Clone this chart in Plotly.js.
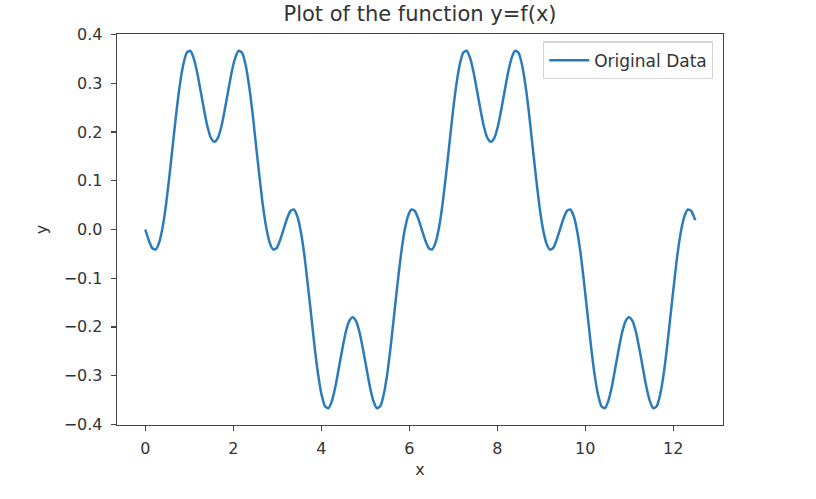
<!DOCTYPE html>
<html>
<head>
<meta charset="utf-8">
<script src="https://cdn.plot.ly/plotly-3.0.1.min.js"></script>
<style>html,body{margin:0;padding:0;background:#fff;}#chart{width:816px;height:499px;}</style>
</head>
<body>
<div id="chart"></div>
<script>
const chartTitle = "Plot of the function y=f(x)";
const seriesName = "Original Data";
const xTickVals = [0, 2, 4, 6, 8, 10, 12];
const yTickVals = [-0.4, -0.3, -0.2, -0.1, 0.0, 0.1, 0.2, 0.3, 0.4];

const xValues = [
0,0.079,0.157,0.236,0.314,0.393,0.471,0.550,0.628,0.707,0.785,0.864,0.942,1.021,1.100,1.178,1.257,1.335,1.414,1.492,
1.571,1.649,1.728,1.806,1.885,1.963,2.042,2.121,2.199,2.278,2.356,2.435,2.513,2.592,2.670,2.749,2.827,2.906,2.985,3.063,
3.142,3.220,3.299,3.377,3.456,3.534,3.613,3.691,3.770,3.848,3.927,4.006,4.084,4.163,4.241,4.320,4.398,4.477,4.555,4.634,
4.712,4.791,4.869,4.948,5.027,5.105,5.184,5.262,5.341,5.419,5.498,5.576,5.655,5.733,5.812,5.890,5.969,6.048,6.126,6.205,
6.283,6.362,6.440,6.519,6.597,6.676,6.754,6.833,6.912,6.990,7.069,7.147,7.226,7.304,7.383,7.461,7.540,7.618,7.697,7.775,
7.854,7.933,8.011,8.090,8.168,8.247,8.325,8.404,8.482,8.561,8.639,8.718,8.796,8.875,8.954,9.032,9.111,9.189,9.268,9.346,
9.425,9.503,9.582,9.660,9.739,9.817,9.896,9.975,10.053,10.132,10.210,10.289,10.367,10.446,10.524,10.603,10.681,10.760,10.838,10.917,
10.996,11.074,11.153,11.231,11.310,11.388,11.467,11.545,11.624,11.702,11.781,11.859,11.938,12.017,12.095,12.174,12.252,12.331,12.409,12.488,
12.5];

const yValues = [
0,-0.022,-0.038,-0.041,-0.027,0.004,0.051,0.111,0.176,0.241,0.297,0.339,0.363,0.367,0.352,0.323,0.285,0.246,0.211,0.188,
0.180,0.188,0.211,0.246,0.285,0.323,0.352,0.367,0.363,0.339,0.297,0.241,0.176,0.111,0.051,0.004,-0.027,-0.041,-0.038,-0.022,
0,0.022,0.038,0.041,0.027,-0.004,-0.051,-0.111,-0.176,-0.241,-0.297,-0.339,-0.363,-0.367,-0.352,-0.323,-0.285,-0.246,-0.211,-0.188,
-0.180,-0.188,-0.211,-0.246,-0.285,-0.323,-0.352,-0.367,-0.363,-0.339,-0.297,-0.241,-0.176,-0.111,-0.051,-0.004,0.027,0.041,0.038,0.022,
0,-0.022,-0.038,-0.041,-0.027,0.004,0.051,0.111,0.176,0.241,0.297,0.339,0.363,0.367,0.352,0.323,0.285,0.246,0.211,0.188,
0.180,0.188,0.211,0.246,0.285,0.323,0.352,0.367,0.363,0.339,0.297,0.241,0.176,0.111,0.051,0.004,-0.027,-0.041,-0.038,-0.022,
0,0.022,0.038,0.041,0.027,-0.004,-0.051,-0.111,-0.176,-0.241,-0.297,-0.339,-0.363,-0.367,-0.352,-0.323,-0.285,-0.246,-0.211,-0.188,
-0.180,-0.188,-0.211,-0.246,-0.285,-0.323,-0.352,-0.367,-0.363,-0.339,-0.297,-0.241,-0.176,-0.111,-0.051,-0.004,0.027,0.041,0.038,0.022,
0.019];

const font = "DejaVu Sans, sans-serif";
const textColor = "#333333";

const trace = {
  x: xValues, y: yValues, type: "scatter", mode: "lines", name: seriesName,
  line: {color: "#2b7bba", width: 2.5, shape: "spline", smoothing: 0.6},
  showlegend: true
};

const axisCommon = {
  showgrid: false, zeroline: false, showline: true, mirror: true,
  linecolor: "#444444", linewidth: 1.3, ticks: "outside", ticklen: 5, tickwidth: 1.3,
  tickcolor: "#444444", tickfont: {family: font, size: 16, color: textColor}
};

const layout = {
  width: 816, height: 499,
  margin: {l: 117, r: 93, t: 34, b: 74, pad: 0},
  paper_bgcolor: "#fff", plot_bgcolor: "#fff",
  font: {family: font, color: textColor},
  title: {text: chartTitle, font: {family: font, size: 21, color: textColor}, x: 0.5 * (117 + 723) / 816, xanchor: "center", y: 0.972, yanchor: "middle"},
  xaxis: Object.assign({}, axisCommon, {
    range: [-0.643, 13.13], tickvals: xTickVals, ticktext: xTickVals.map(String),
    ticklabelstandoff: 3,
    title: {text: "x", font: {family: font, size: 16, color: textColor}, standoff: 7}
  }),
  yaxis: Object.assign({}, axisCommon, {
    range: [-0.4015, 0.4015], tickvals: yTickVals, tickformat: ".1f",
    ticklabelstandoff: 5,
    title: {text: "y", font: {family: font, size: 16, color: textColor}, standoff: 12}
  }),
  legend: {
    x: 0.9835, y: 0.981, xanchor: "right", yanchor: "top",
    itemwidth: 40,
    bgcolor: "rgba(255,255,255,0.8)", bordercolor: "#d6d6d6", borderwidth: 1.2,
    font: {family: font, size: 17, color: textColor}
  },
  showlegend: true
};

Plotly.newPlot("chart", [trace], layout, {displayModeBar: false, staticPlot: true});
</script>
</body>
</html>
